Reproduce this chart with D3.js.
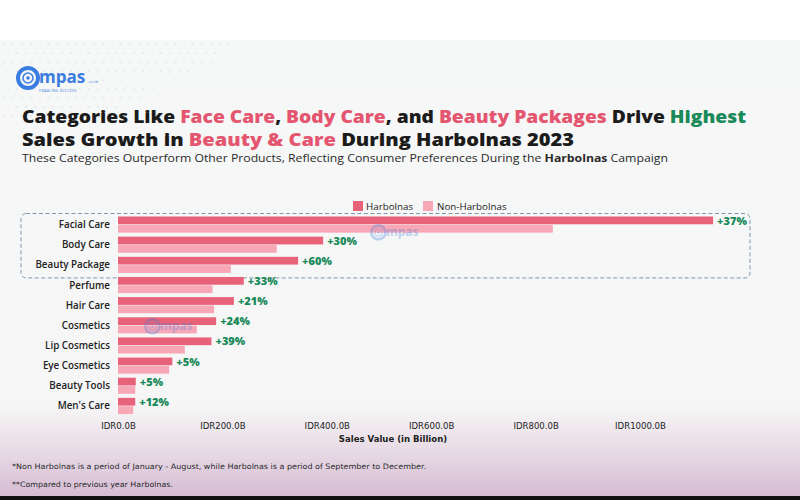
<!DOCTYPE html>
<html><head><meta charset="utf-8">
<script src="https://cdn.jsdelivr.net/npm/d3@7"></script>
<style>
html,body{margin:0;padding:0;background:#fff;}
svg{display:block;font-family:"Open Sans","Noto Sans",sans-serif;}
</style></head>
<body>
<svg id="c" width="800" height="500"></svg>
<script>
const categories = ["Facial Care","Body Care","Beauty Package","Perfume","Hair Care","Cosmetics","Lip Cosmetics","Eye Cosmetics","Beauty Tools","Men's Care"];
const harbolnas = [1140, 393, 345, 241, 222, 188, 179, 104, 34, 33];
const nonHarbolnas = [833, 304, 216, 181, 184, 151, 128, 98, 33, 29];
const growth = ["+37%","+30%","+60%","+33%","+21%","+24%","+39%","+5%","+5%","+12%"];
const tickValues = [0, 200, 400, 600, 800, 1000];
const highlighted = ["Facial Care","Body Care","Beauty Package"];

const svg = d3.select("#c");
const defs = svg.append("defs");
const g1 = defs.append("linearGradient").attr("id","bg").attr("x1",0).attr("y1",0).attr("x2",0).attr("y2",1);
g1.append("stop").attr("offset","0").attr("stop-color","#f6f7f7");
g1.append("stop").attr("offset","0.8").attr("stop-color","#f6f6f6");
g1.append("stop").attr("offset","0.88").attr("stop-color","#ebe1e9");
g1.append("stop").attr("offset","1").attr("stop-color","#d6bcd4");

svg.append("rect").attr("x",0).attr("y",0).attr("width",800).attr("height",40).attr("fill","#ffffff");
svg.append("rect").attr("x",0).attr("y",40).attr("width",800).attr("height",456).attr("fill","url(#bg)");
svg.append("rect").attr("x",0).attr("y",496).attr("width",800).attr("height",4).attr("fill","#111");

// decorative dots top-left
const dots = svg.append("g").attr("fill","#dfe3ea");
for (let r=0;r<9;r++){ for(let c=0;c<26;c++){ const x=4+c*9+(r%2)*4, y=44+r*9; if (x < 250 - r*18) dots.append("circle").attr("cx",x).attr("cy",y).attr("r",1.1).attr("opacity",0.7);} }

// logo
function logo(gx, gy, s, op, full){
  const g = svg.append("g").attr("transform",`translate(${gx},${gy}) scale(${s})`).attr("opacity",op);
  g.append("circle").attr("cx",12).attr("cy",12).attr("r",10).attr("fill","none").attr("stroke","#3a7de0").attr("stroke-width",4);
  g.append("circle").attr("cx",12).attr("cy",12).attr("r",5).attr("fill","none").attr("stroke","#3a7de0").attr("stroke-width",1.5);
  g.append("circle").attr("cx",12).attr("cy",12).attr("r",1.8).attr("fill","#3a7de0");
  g.append("text").attr("x",23).attr("y",17).attr("font-size",17).attr("font-weight",700).attr("fill","#3a7de0").text("mpas");
  if (full) {
    g.append("text").attr("x",72).attr("y",17).attr("font-size",4).attr("fill","#3a7de0").text(".co.id");
    g.append("text").attr("x",23).attr("y",26).attr("font-size",3.5).attr("fill","#3a7de0").attr("letter-spacing",0.3).text("ENABLING SUCCESS");
  }
}
logo(16, 66, 1, 1, true);

// title
const title = svg.append("g").attr("font-weight",800).attr("font-size",18).attr("fill","#1b1b1b");
const pink = "#e4566f", green = "#1b8a5a";
const t1 = title.append("text").attr("x",22).attr("y",123).attr("textLength",724).attr("lengthAdjust","spacingAndGlyphs");
[["Categories Like ",null],["Face Care",pink],[", ",null],["Body Care",pink],[", and ",null],["Beauty Packages",pink],[" Drive ",null],["Highest",green]].forEach(([t,c])=>{ const ts=t1.append("tspan").text(t); if(c) ts.attr("fill",c); });
const t2 = title.append("text").attr("x",22).attr("y",146).attr("textLength",552).attr("lengthAdjust","spacingAndGlyphs");
[["Sales Growth in ",null],["Beauty & Care",pink],[" During Harbolnas 2023",null]].forEach(([t,c])=>{ const ts=t2.append("tspan").text(t); if(c) ts.attr("fill",c); });
const st = svg.append("text").attr("x",22).attr("y",161.5).attr("font-size",10.5).attr("fill","#2a2a2a").attr("textLength",646).attr("lengthAdjust","spacingAndGlyphs");
st.append("tspan").text("These Categories Outperform Other Products, Reflecting Consumer Preferences During the ");
st.append("tspan").attr("font-weight",700).text("Harbolnas");
st.append("tspan").text(" Campaign");

// scales
const x = d3.scaleLinear().domain([0,1000]).range([118,640]);
const y = d3.scaleBand().domain(categories).range([214.5,416]).paddingInner(0.2).paddingOuter(0.1);
const bh = y.bandwidth()/2;

// highlight box
const hb0 = y(highlighted[0]) - 3, hb1 = y(highlighted[highlighted.length-1]) + y.bandwidth() + 5;
svg.append("rect").attr("x",21).attr("y",hb0).attr("width",729).attr("height",hb1-hb0).attr("rx",5)
  .attr("fill","none").attr("stroke","#7f98b0").attr("stroke-width",1).attr("stroke-dasharray","4,2.5");

// bars
const rows = svg.append("g");
categories.forEach((c,i)=>{
  rows.append("rect").attr("x",x(0)).attr("y",y(c)).attr("width",x(harbolnas[i])-x(0)).attr("height",bh-0.3).attr("fill","#e8627a");
  rows.append("rect").attr("x",x(0)).attr("y",y(c)+bh+0.3).attr("width",x(nonHarbolnas[i])-x(0)).attr("height",bh-0.3).attr("fill","#f8a7b6");
});

// watermarks (faint)
logo(370, 224, 0.7, 0.3, false);
logo(144, 318, 0.7, 0.3, false);

categories.forEach((c,i)=>{
  rows.append("text").attr("x",x(harbolnas[i])+4).attr("y",y(c)+bh).attr("font-size",11).attr("font-weight",800).attr("fill",green).text(growth[i]);
  rows.append("text").attr("x",110).attr("y",y(c)+y.bandwidth()/2+3.5).attr("text-anchor","end").attr("font-size",9.8).attr("font-weight",600).attr("fill","#222").text(c);
});

// axis
const ax = svg.append("g").attr("transform","translate(0,418)")
  .call(d3.axisBottom(x).tickValues(tickValues).tickSize(0).tickFormat(d=>"IDR"+d.toFixed(1)+"B"));
ax.select(".domain").remove();
ax.selectAll("text").attr("font-size",9.5).attr("fill","#222").attr("dy","0.85em").attr("font-family","'DejaVu Sans Condensed','Liberation Sans Narrow','Roboto',sans-serif");
svg.append("text").attr("x",393).attr("y",442).attr("text-anchor","middle").attr("font-size",9.5).attr("fill","#222").attr("font-weight",600)
  .attr("font-family","'DejaVu Sans Condensed','Roboto',sans-serif").text("Sales Value (in Billion)");

// legend
const lg = svg.append("g");
lg.append("rect").attr("x",353).attr("y",201).attr("width",10).attr("height",10).attr("fill","#e8627a");
lg.append("text").attr("x",366).attr("y",209.5).attr("font-size",9.8).attr("fill","#222").text("Harbolnas");
lg.append("rect").attr("x",423).attr("y",201).attr("width",10).attr("height",10).attr("fill","#f8a7b6");
lg.append("text").attr("x",437).attr("y",209.5).attr("font-size",9.8).attr("fill","#222").text("Non-Harbolnas");

// footnotes
const fn = svg.append("g").attr("font-size",7.5).attr("fill","#2a2a2a").attr("font-family","'DejaVu Sans Condensed','Roboto',sans-serif");
fn.append("text").attr("x",12).attr("y",469).attr("textLength",414).attr("lengthAdjust","spacingAndGlyphs").text("*Non Harbolnas is a period of January - August, while Harbolnas is a period of September to December.");
fn.append("text").attr("x",12).attr("y",487).attr("textLength",161).attr("lengthAdjust","spacingAndGlyphs").text("**Compared to previous year Harbolnas.");
</script>
</body></html>
